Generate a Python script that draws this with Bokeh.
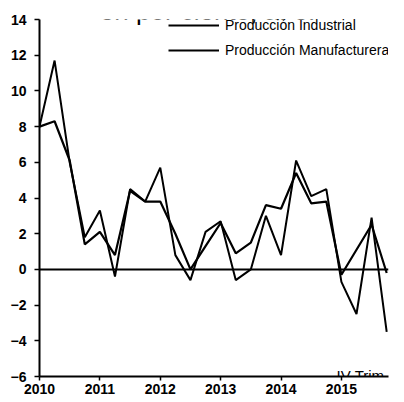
from bokeh.plotting import figure
from bokeh.models import Legend, Label, Span, FixedTicker, Range1d
from bokeh.embed import file_html
from bokeh.resources import INLINE

quarters = [2010.0, 2010.25, 2010.5, 2010.75, 2011.0, 2011.25, 2011.5, 2011.75,
            2012.0, 2012.25, 2012.5, 2012.75, 2013.0, 2013.25, 2013.5, 2013.75,
            2014.0, 2014.25, 2014.5, 2014.75, 2015.0, 2015.25, 2015.5, 2015.75]
industrial = [8.0, 11.7, 6.0, 1.8, 3.3, -0.4, 4.5, 3.8, 5.7, 0.8, -0.6, 2.1,
              2.7, -0.6, 0.0, 3.0, 0.8, 6.1, 4.1, 4.5, -0.7, -2.5, 2.9, -3.5]
manufacturera = [8.0, 8.3, 6.1, 1.4, 2.1, 0.8, 4.4, 3.8, 3.8, 2.0, 0.0, 1.3,
                 2.6, 0.9, 1.5, 3.6, 3.4, 5.4, 3.7, 3.8, -0.3, 1.1, 2.5, -0.2]
year_ticks = [2010, 2011, 2012, 2013, 2014, 2015]
y_ticks = [-6, -4, -2, 0, 2, 4, 6, 8, 10, 12, 14]
series_names = ["Producción Industrial", "Producción Manufacturera"]
title_text = "en por ciento, a. e."
note_text = "IV Trim."

FONT = "Liberation Sans"

p = figure(width=404, height=418, output_backend="svg", toolbar_location=None,
           x_range=Range1d(2010, 2015.78), y_range=Range1d(-6, 14),
           min_border_left=39, min_border_right=16, min_border_top=35, min_border_bottom=26)
p.styles = {"margin-top": "-16px", "margin-bottom": "-24px"}
p.outline_line_color = None
p.background_fill_color = "white"
p.xgrid.visible = False
p.ygrid.visible = False

r1 = p.line(quarters, industrial, line_color="black", line_width=2)
r2 = p.line(quarters, manufacturera, line_color="black", line_width=2.2)

p.add_layout(Span(location=0, dimension="width", line_color="black", line_width=2))

for ax in (p.xaxis[0], p.yaxis[0]):
    ax.axis_line_width = 2
    ax.axis_line_color = "black"
    ax.major_tick_line_width = 1.5
    ax.major_tick_in = 0
    ax.minor_tick_line_color = None
    ax.major_label_text_font = FONT
    ax.major_label_text_font_style = "bold"
    ax.major_label_text_font_size = "14px"
    ax.major_label_text_color = "black"

p.xaxis.ticker = FixedTicker(ticks=year_ticks)
p.xaxis.major_tick_out = 4
p.xaxis.major_label_standoff = 3
p.yaxis.ticker = FixedTicker(ticks=y_ticks)
p.yaxis.major_tick_out = 5
p.yaxis.major_label_standoff = 8

legend = Legend(items=[(series_names[0], [r1]), (series_names[1], [r2])],
                location=(129, 316), border_line_color=None, background_fill_alpha=0,
                padding=0, margin=0, spacing=5, glyph_width=51, glyph_height=20,
                label_height=20, label_standoff=6, label_text_font=FONT,
                label_text_font_size="14px", label_text_color="black")
p.add_layout(legend)

p.add_layout(Label(x=168, y=366, x_units="screen", y_units="screen", text=title_text,
                   text_align="center", text_baseline="alphabetic", text_font=FONT,
                   text_font_size="26px", text_color="black"))
p.add_layout(Label(x=349, y=1, x_units="screen", y_units="screen", text=note_text,
                   text_align="right", text_baseline="alphabetic", text_font=FONT,
                   text_font_size="15px", text_color="black"))

open("out.html", "w").write(file_html(p, INLINE))
